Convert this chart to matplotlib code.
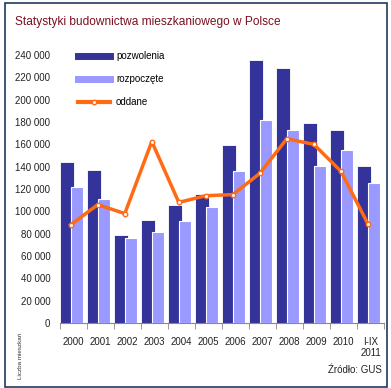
import matplotlib
matplotlib.use("Agg")
import matplotlib.pyplot as plt
from matplotlib.lines import Line2D
from matplotlib.patches import Rectangle
import numpy as np

plt.rcParams['font.family'] = ['Liberation Sans', 'DejaVu Sans']

# data
years = ["2000", "2001", "2002", "2003", "2004", "2005", "2006",
         "2007", "2008", "2009", "2010", "I-IX\n2011"]
pozwolenia = [144000, 137000, 79000, 92000, 106000, 115500, 159000,
              235500, 228000, 179000, 173000, 141000]
rozpoczete = [122000, 111000, 76000, 81500, 91000, 104000, 136000,
              182000, 173000, 141000, 155000, 125000]
oddane = [88000, 106000, 98000, 162500, 108000, 114000, 115000,
          134000, 165000, 160000, 136000, 89000]
yticks = list(range(0, 240001, 20000))

dark = "#333399"
light = "#9999FF"
orange = "#FF6A13"

fig = plt.figure(figsize=(3.91, 3.88), dpi=100)
ax = fig.add_axes([60/391, 1-323/388, 324/391, 268/388])

x = np.arange(len(years))
ax.bar(x - 0.24, pozwolenia, width=0.53, color=dark, edgecolor="white", linewidth=0.6, zorder=2)
ax.bar(x + 0.14, rozpoczete, width=0.46, color=light, edgecolor="white", linewidth=0.8, zorder=3)
ax.plot(x - 0.1, oddane, color=orange, lw=2.5, marker="o", ms=3.2,
        mfc="white", mec=orange, mew=1.0, zorder=4)

ax.set_xlim(-0.5, len(years) - 0.5)
ax.set_ylim(0, 240000)
ax.set_yticks(yticks)
ax.set_yticklabels([f"{v:,}".replace(",", " ") for v in yticks], fontsize=7, color="#222222")
ax.tick_params(axis="y", length=0, pad=7)
ax.set_xticks(x)
ax.set_xticklabels(years, fontsize=7, color="#222222", multialignment="center")
ax.set_xticks(np.arange(-0.5, len(years)), minor=True)
ax.tick_params(axis="x", which="major", length=0, pad=10)
ax.tick_params(axis="x", which="minor", length=4, color="#888888", direction="out")
for s in ["left", "top", "right"]:
    ax.spines[s].set_visible(False)
ax.spines["bottom"].set_color("#888888")

handles = [Line2D([], [], color=dark, lw=5),
           Line2D([], [], color=light, lw=5),
           Line2D([], [], color=orange, lw=3, marker="o", ms=3.2, mfc="white", mec=orange)]
fig.legend(handles, ["pozwolenia", "rozpoczęte", "oddane"], loc="upper left",
           bbox_to_anchor=(78/391, 1-51/388), frameon=False, fontsize=7,
           handlelength=3.3, handletextpad=0.6, labelspacing=1.35,
           borderpad=0, borderaxespad=0)

fig.text(15/391, 1-22/388, "Statystyki budownictwa mieszkaniowego w Polsce",
         fontsize=8.6, color="#7A1020", va="center", ha="left")
fig.text(20/391, 1-356/388, "Liczba mieszkań", rotation=90, fontsize=4.5,
         color="#333333", ha="center", va="center")
fig.text(382/391, 1-370/388, "Źródło: GUS", fontsize=7, color="#222222",
         ha="right", va="center")

fig.patches.append(Rectangle((5/391, 1-387/388), 382/391, 384/388, transform=fig.transFigure,
                             fill=False, edgecolor="#1F3A5F", lw=1.2))

fig.savefig("out.png", dpi=100)
